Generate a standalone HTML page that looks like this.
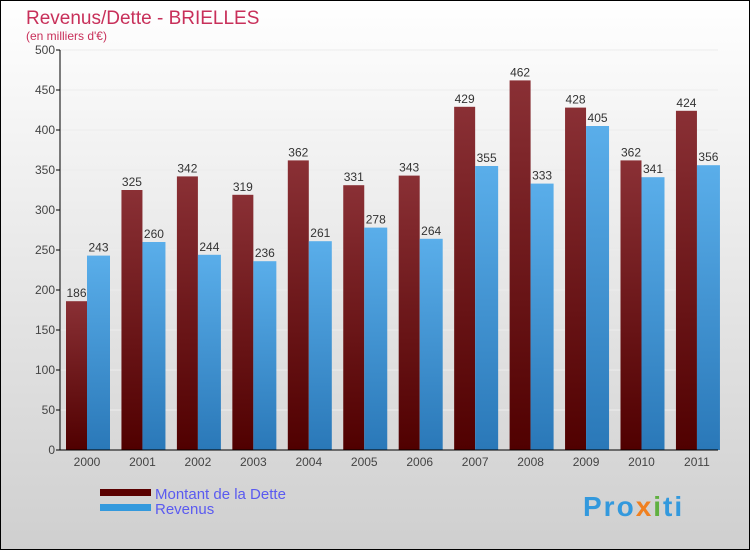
<!DOCTYPE html>
<html><head><meta charset="utf-8"><style>
body{margin:0;width:750px;height:550px;overflow:hidden;font-family:"Liberation Sans",sans-serif}
</style></head><body>
<svg id="chart" width="750" height="550" xmlns="http://www.w3.org/2000/svg" font-family="Liberation Sans, sans-serif">
<defs>
<linearGradient id="bg" x1="0" y1="0" x2="0" y2="1"><stop offset="0" stop-color="#ffffff"/><stop offset="1" stop-color="#cfcfcf"/></linearGradient>
<linearGradient id="red" x1="0" y1="0" x2="0" y2="1"><stop offset="0" stop-color="#8a3035"/><stop offset="1" stop-color="#500000"/></linearGradient>
<linearGradient id="blue" x1="0" y1="0" x2="0" y2="1"><stop offset="0" stop-color="#5aaeea"/><stop offset="1" stop-color="#2a78b8"/></linearGradient>
</defs>
<rect x="0.5" y="0.5" width="749" height="549" fill="url(#bg)" stroke="#000"/>
<text x="26" y="24" font-size="19" fill="#c8305a">Revenus/Dette - BRIELLES</text>
<text x="26" y="40" font-size="12" fill="#c8305a">(en milliers d'€)</text>
<g id="grid"></g><g id="bars"></g><g id="axes"></g>
<rect x="100" y="489" width="51" height="7" fill="#5a0000"/>
<text x="155" y="499" font-size="15" fill="#5a5af0">Montant de la Dette</text>
<rect x="100" y="504" width="51" height="7" fill="#3399dd"/>
<text x="155" y="514" font-size="15" fill="#5a5af0">Revenus</text>
<text x="583" y="516" font-size="28" font-weight="bold" letter-spacing="2" fill="#3399dd">Pro<tspan fill="#f08020">x</tspan><tspan fill="#60b040">i</tspan>ti</text>
</svg>
<script>
const years=["2000","2001","2002","2003","2004","2005","2006","2007","2008","2009","2010","2011"];
const dette=[186,325,342,319,362,331,343,429,462,428,362,424];
const revenus=[243,260,244,236,261,278,264,355,333,405,341,356];
const ticks=[0,50,100,150,200,250,300,350,400,450,500];
const NS="http://www.w3.org/2000/svg";
const y=v=>450-v*0.8;
const x0=62,step=55.45;
function mk(t,a,p){const e=document.createElementNS(NS,t);for(const k in a)e.setAttribute(k,a[k]);p.appendChild(e);return e;}
const bars=document.getElementById('bars'),axes=document.getElementById('axes'),grid=document.getElementById('grid');
ticks.forEach(t=>{
  const g=mk('line',{x1:60,x2:718,y1:y(t),y2:y(t),stroke:'#ececec'},grid);
  
  
  const l=mk('line',{x1:56,x2:60,y1:y(t),y2:y(t),stroke:'#000'},axes);
  
  
  const tx=mk('text',{x:55,y:y(t)+4,'text-anchor':'end','font-size':12,fill:'#444'},axes);
  tx.textContent=t;
  
  
});
years.forEach((yr,i)=>{
  const gx=x0+4+i*step;
  const r=mk('rect',{x:gx,y:y(dette[i]),width:21,height:dette[i]*0.8,fill:'url(#red)'},bars);
  
  
  const b=mk('rect',{x:gx+21,y:y(revenus[i]),width:23,height:revenus[i]*0.8,fill:'url(#blue)'},bars);
  
  
  const t1=mk('text',{x:gx+10.5,y:y(dette[i])-4,'text-anchor':'middle','font-size':12,fill:'#333'},bars);
  t1.textContent=dette[i];
  
  
  const t2=mk('text',{x:gx+32.5,y:y(revenus[i])-4,'text-anchor':'middle','font-size':12,fill:'#333'},bars);
  t2.textContent=revenus[i];
  
  
  const xl=mk('text',{x:gx+21,y:466,'text-anchor':'middle','font-size':12,fill:'#444'},axes);
  xl.textContent=yr;
  
  
});
const ya=mk('line',{x1:60,x2:60,y1:50,y2:450,stroke:'#000'},axes);


const xa=mk('line',{x1:60,x2:718,y1:450,y2:450,stroke:'#000'},axes);


</script>
</body></html>
